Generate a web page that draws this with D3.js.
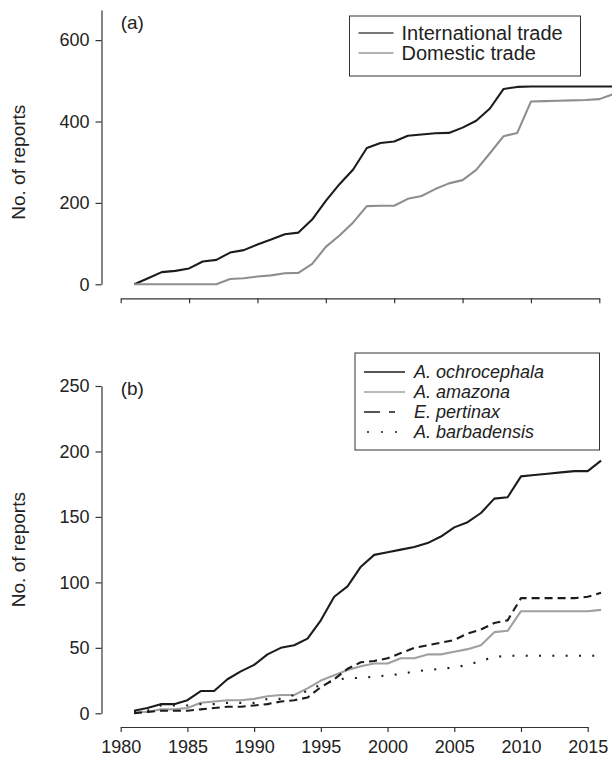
<!DOCTYPE html>
<html>
<head>
<meta charset="utf-8">
<script src="https://cdn.jsdelivr.net/npm/d3@7"></script>
<style>
  body { margin: 0; background: #fff; }
  svg { display: block; font-family: "Liberation Sans", Arial, sans-serif; }
  .axis path, .axis line { stroke: #333; stroke-width: 1.2; }
  .axis text { fill: #222; font-size: 18px; }
  .line { fill: none; stroke-width: 2.1; stroke-linejoin: round; }
</style>
</head>
<body>
<div id="graph"></div>
<script>
// years of records (1981-2016)
var years = [1981,1982,1983,1984,1985,1986,1987,1988,1989,1990,1991,1992,1993,1994,1995,1996,1997,1998,
             1999,2000,2001,2002,2003,2004,2005,2006,2007,2008,2009,2010,2011,2012,2013,2014,2015,2016];

// panel (a) cumulative reports
var international = [0,15,30,33,39,56,60,78,84,98,110,123,127,159,205,246,282,335,
                     347,351,365,368,371,372,385,402,432,480,485,486,486,486,486,486,486,486];
var domestic = [0,0,0,0,0,0,0,13,15,19,22,27,28,50,92,120,152,192,
                193,193,210,217,234,248,256,281,322,364,372,449,450,451,452,453,455,467];

// panel (b) cumulative reports by species
var ochrocephala = [2,4,7,7,10,17,17,26,32,37,45,50,52,57,71,89,97,112,
                    121,123,125,127,130,135,142,146,153,164,165,181,182,183,184,185,185,193];
var amazona = [1,1,3,3,4,8,9,10,10,11,13,14,14,19,25,29,33,36,
               38,38,42,42,45,45,47,49,52,62,63,78,78,78,78,78,78,79];
var pertinax = [0,1,2,2,2,3,4,5,5,6,7,9,10,12,20,26,34,39,
                40,42,46,50,52,54,56,61,64,69,71,88,88,88,88,88,89,92];
var barbadensis = [1,2,6,6,6,7,7,8,8,8,11,11,14,17,22,25,27,27,
                   28,29,30,32,33,34,35,37,40,43,44,44,44,44,44,44,44,44];

var xTicks = [1980,1985,1990,1995,2000,2005,2010,2015];
var yTicksA = [0,200,400,600];
var yTicksB = [0,50,100,150,200,250];

var seriesA = [
  {name: "International trade", values: international, color: "#1c1c1c", legendColor: "#4a4a4a", dash: null},
  {name: "Domestic trade", values: domestic, color: "#8e8e8e", legendColor: "#9a9a9a", dash: null}
];
var seriesB = [
  {name: "A. ochrocephala", values: ochrocephala, color: "#1c1c1c", dash: null, legendDash: null},
  {name: "A. amazona", values: amazona, color: "#a0a0a0", dash: null, legendDash: null},
  {name: "E. pertinax", values: pertinax, color: "#1c1c1c", dash: "8,5", legendDash: "16,9,6,40"},
  {name: "A. barbadensis", values: barbadensis, color: "#1c1c1c", dash: "2,11.3", legendDash: "2,12", legendOffset: -3}
];

var svgWidth = 612, svgHeight = 759;
var svg = d3.select("#graph").append("svg")
  .attr("width", svgWidth)
  .attr("height", svgHeight);

function drawPanel(opts) {
  var xScale = d3.scaleLinear().domain([1980, 2015]).range([opts.x0, opts.x1]);
  var yScale = d3.scaleLinear().domain([0, opts.yTop]).range([opts.yZero, opts.yTopPx]);

  // y axis
  svg.append("g")
    .attr("class", "y axis")
    .attr("transform", "translate(" + opts.yAxisX + ",0)")
    .call(d3.axisLeft(yScale).tickValues(opts.yTicks).tickSize(6).tickSizeOuter(0).tickPadding(6));

  // x axis (detached)
  var xAxis = d3.axisBottom(xScale).tickValues(xTicks).tickSize(5).tickSizeOuter(0).tickPadding(8)
    .tickFormat(opts.xLabels ? d3.format("d") : "");
  svg.append("g")
    .attr("class", "x axis")
    .attr("transform", "translate(0," + opts.xAxisY + ")")
    .call(xAxis);

  // y label
  var yMid = (yScale(0) + yScale(opts.yTicks[opts.yTicks.length - 1])) / 2;
  svg.append("text")
    .attr("transform", "translate(25," + yMid + ") rotate(-90)")
    .attr("text-anchor", "middle")
    .style("font-size", "19px")
    .style("fill", "#222")
    .text("No. of reports");

  // panel letter
  svg.append("text")
    .attr("x", opts.x0)
    .attr("y", opts.letterY)
    .style("font-size", "19px")
    .style("fill", "#222")
    .text(opts.letter);

  var lineGen = function(values) {
    return d3.line()
      .x(function(d, i) { return xScale(years[i]); })
      .y(function(d) { return yScale(d); })(values);
  };

  opts.series.forEach(function(s) {
    svg.append("path")
      .attr("class", "line")
      .attr("d", lineGen(s.values))
      .style("stroke", s.color)
      .style("stroke-dasharray", s.dash);
  });

  // legend
  var lg = svg.append("g").attr("transform", "translate(" + opts.legend.x + "," + opts.legend.y + ")");
  lg.append("rect")
    .attr("width", opts.legend.w)
    .attr("height", opts.legend.h)
    .style("fill", "#fff")
    .style("stroke", "#333")
    .style("stroke-width", 1);
  opts.series.forEach(function(s, i) {
    var cy = opts.legend.firstRow + i * opts.legend.rowGap;
    lg.append("line")
      .attr("x1", 9).attr("x2", opts.legend.lineEnd)
      .attr("y1", cy).attr("y2", cy)
      .style("stroke", s.legendColor || s.color)
      .style("stroke-width", opts.legend.lineWidth)
      .style("stroke-dasharray", s.legendDash || null)
      .style("stroke-dashoffset", s.legendOffset || 0);
    lg.append("text")
      .attr("x", opts.legend.textX)
      .attr("y", cy)
      .attr("dy", "0.35em")
      .style("font-size", opts.legend.fontSize)
      .style("font-style", opts.legend.italic ? "italic" : "normal")
      .style("fill", "#222")
      .text(s.name);
  });
}

drawPanel({
  letter: "(a)", letterY: 29,
  x0: 120.7, x1: 599.3,
  yAxisX: 101.5, yZero: 284.3, yTop: 674, yTopPx: 10,
  yTicks: yTicksA, xAxisY: 298.3, xLabels: false,
  series: seriesA,
  legend: {x: 349.5, y: 16, w: 231, h: 60, firstRow: 17, rowGap: 20, lineEnd: 44, textX: 52,
           fontSize: "20px", italic: false, lineWidth: 1.3}
});

drawPanel({
  letter: "(b)", letterY: 395,
  x0: 120.7, x1: 587.7,
  yAxisX: 101.5, yZero: 713.3, yTop: 250, yTopPx: 386,
  yTicks: yTicksB, xAxisY: 727, xLabels: true,
  series: seriesB,
  legend: {x: 355, y: 353, w: 244.5, h: 97, firstRow: 19, rowGap: 20, lineEnd: 50, textX: 59,
           fontSize: "18px", italic: true, lineWidth: 1.5}
});
</script>
</body>
</html>
